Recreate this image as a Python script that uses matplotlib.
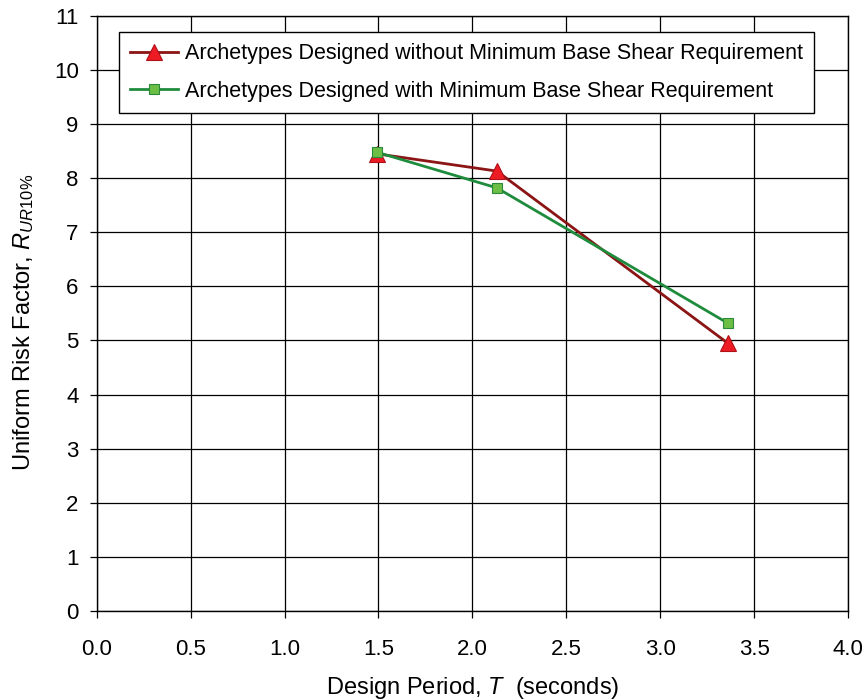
import numpy as np
import matplotlib
matplotlib.use("Agg")
import matplotlib.pyplot as plt

plt.rcParams['font.family'] = ['Liberation Sans', 'DejaVu Sans']
plt.rcParams['mathtext.fontset'] = 'custom'
plt.rcParams['mathtext.rm'] = 'Liberation Sans'
plt.rcParams['mathtext.it'] = 'Liberation Sans:italic'

# design periods (s) and uniform risk factors
period = [1.49, 2.13, 3.36]
r_without_min = [8.45, 8.13, 4.95]
r_with_min = [8.48, 7.82, 5.32]

label_without = 'Archetypes Designed without Minimum Base Shear Requirement'
label_with = 'Archetypes Designed with Minimum Base Shear Requirement'

fs = 16
fs_leg = 15.5
fs_lab = 17

fig = plt.figure(figsize=(8.64, 7.0), dpi=100)
ax = fig.add_axes([0.112, 0.127, 0.8695, 0.8505])

ax.plot(period, r_without_min, color='#8B1414', lw=2.0, marker='^', ms=11,
        markerfacecolor='#ED1C24', markeredgecolor='#B01018', markeredgewidth=0.8,
        label=label_without, zorder=3)
ax.plot(period, r_with_min, color='#1E8C3C', lw=2.0, marker='s', ms=7.5,
        markerfacecolor='#6CBE45', markeredgecolor='#2A8A3A', markeredgewidth=0.8,
        label=label_with, zorder=4)

ax.set_xlim(0, 4)
ax.set_ylim(0, 11)
ax.set_xticks(np.arange(0, 4.01, 0.5))
ax.set_yticks(np.arange(0, 12, 1))
ax.set_xticklabels(['%.1f' % v for v in np.arange(0, 4.01, 0.5)])
ax.grid(True, color='black', lw=0.9)
ax.set_axisbelow(True)
ax.tick_params(direction='out', length=5, width=0.9, labelsize=fs)
ax.tick_params(axis='x', pad=15)
ax.tick_params(axis='y', pad=8)
for s in ax.spines.values():
    s.set_linewidth(1.0)

ax.set_xlabel(r'Design Period, $T$  (seconds)', fontsize=fs_lab, labelpad=11)
ax.set_ylabel(r'Uniform Risk Factor, $R_{UR10\%}$', fontsize=fs_lab)
ax.yaxis.set_label_coords(-0.081, 0.485)

leg = ax.legend(loc='upper left', bbox_to_anchor=(0.1377, 0.9543),
                bbox_transform=fig.transFigure, fontsize=fs_leg, frameon=True,
                fancybox=False, shadow=False, framealpha=1, edgecolor='black',
                handlelength=2.2, handletextpad=0.33, borderpad=0.52,
                borderaxespad=0, labelspacing=0.78)
leg.get_frame().set_linewidth(1.0)

fig.savefig('out.png', dpi=100)
